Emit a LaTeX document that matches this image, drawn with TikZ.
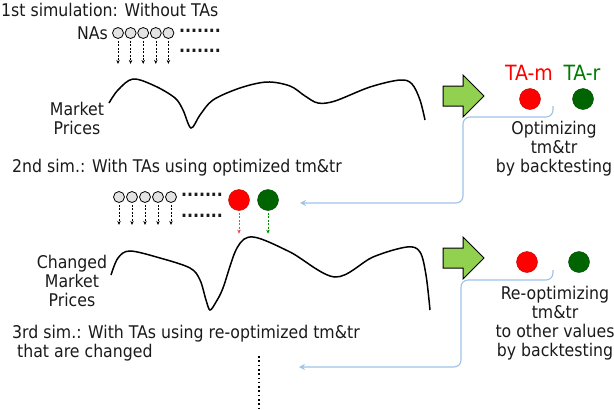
\documentclass[tikz,border=0pt]{standalone}
\usepackage{fontspec}
\setmainfont{DejaVu Sans Condensed}
\usepackage{tikz}
\usetikzlibrary{arrows.meta}
\usetikzlibrary{positioning}
\usepackage{xcolor}
\definecolor{darktext}{HTML}{1A1A1A}
\definecolor{linkblue}{HTML}{9DC3E6}
\definecolor{arrowgreen}{HTML}{92D050}
\definecolor{tagreen}{HTML}{006400}
\definecolor{tmred}{HTML}{FF0000}
\tikzset{
    na/.style={
        draw,
        circle,
        fill=gray!22,
        minimum size=11pt,
        inner sep=0pt,
        line width=0.8pt
    },
    tam/.style={
        draw=red!75!black,
        circle,
        fill=tmred,
        minimum size=21pt,
        inner sep=0pt
    },
    tar/.style={
        draw=tagreen!70!black,
        circle,
        fill=tagreen,
        minimum size=21pt,
        inner sep=0pt
    },
    txt/.style={
        font=\fontsize{17.5}{19}\selectfont,
        text=darktext,
        inner sep=0pt
    },
    talabel/.style={
        font=\fontsize{21}{24}\selectfont,
        inner sep=0pt
    },
    flow/.style={
        draw,
        dash pattern=on 2pt off 1.5pt,
        -{Stealth[length=4pt, width=3.5pt]},
        line width=0.6pt,
        shorten <=2pt
    },
    feedback/.style={
        draw=linkblue,
        line width=1.1pt,
        rounded corners=7pt,
        -{Stealth[length=6pt, width=6pt, open]}
    },
    price/.style={
        line width=1.5pt
    },
    bigarrow/.style={
        draw,
        fill=arrowgreen,
        line width=1pt,
        line join=miter
    }
}

\begin{document}
\begin{tikzpicture}[x=1pt, y=-1pt]
  \useasboundingbox (0,0) rectangle (614,410);

  % 1st simulation
  \node[txt, anchor=west] (sim1) at (1,10) {1st simulation: Without TAs};
  \node[txt, anchor=east] (nas) at (108,33) {NAs};
  \node[na] (n11) at (118,33) {};
  \node[na] (n12) at (130.6,33) {};
  \node[na] (n13) at (143.2,33) {};
  \node[na] (n14) at (155.8,33) {};
  \node[na] (n15) at (168.4,33) {};
  \node[txt] (dots11) at (200,31) {\textbf{.......}};
  \node[txt] (dots12) at (200,51) {\textbf{.......}};
  \coordinate[below=25pt of n11] (e11);
  \coordinate[below=25pt of n12] (e12);
  \coordinate[below=25pt of n13] (e13);
  \coordinate[below=25pt of n14] (e14);
  \coordinate[below=25pt of n15] (e15);
  \draw[flow] (n11) -- (e11);
  \draw[flow] (n12) -- (e12);
  \draw[flow] (n13) -- (e13);
  \draw[flow] (n14) -- (e14);
  \draw[flow] (n15) -- (e15);

  \node[txt, align=center] (mp1) at (77,118) {Market\\Prices};
  \draw[price] plot[smooth, tension=0.55] coordinates {(109,103) (118,90) (133,79) (155,86) (175,98) (183,110) (191,128) (200,115) (213,100) (240,88) (267,82) (290,86) (305,96) (318,103) (335,101) (370,87) (400,80) (412,84) (420,100) (425,120)};

  \draw[bigarrow] (443,86) -- (463,86) -- (463,75) -- (484,96) -- (463,117) -- (463,106) -- (443,106) -- cycle;

  \node[talabel, text=tmred] (tm1) at (529,73) {TA-m};
  \node[talabel, text=tagreen!85!green] (tr1) at (582,73) {TA-r};
  \node[tam] (red1) at (530,99) {};
  \node[tar] (green1) at (583,99) {};
  \node[txt, align=center] (opt1) at (554,149) {Optimizing\\tm\&tr\\by backtesting};

  % 2nd simulation
  \node[txt, anchor=west] (sim2) at (12,168) {2nd sim.: With TAs using optimized tm\&tr};
  \node[na] (n21) at (119,197) {};
  \node[na] (n22) at (132,197) {};
  \node[na] (n23) at (145,197) {};
  \node[na] (n24) at (158,197) {};
  \node[na] (n25) at (171,197) {};
  \node[txt] (dots21) at (202,195) {\textbf{.......}};
  \node[txt] (dots22) at (202,216) {\textbf{.......}};
  \node[tam] (red2) at (239,200) {};
  \node[tar] (green2) at (268,200) {};
  \coordinate[below=22pt of n21] (e21);
  \coordinate[below=22pt of n22] (e22);
  \coordinate[below=22pt of n23] (e23);
  \coordinate[below=22pt of n24] (e24);
  \coordinate[below=22pt of n25] (e25);
  \coordinate[below=23pt of red2] (e26);
  \coordinate[below=23pt of green2] (e27);
  \draw[flow] (n21) -- (e21);
  \draw[flow] (n22) -- (e22);
  \draw[flow] (n23) -- (e23);
  \draw[flow] (n24) -- (e24);
  \draw[flow] (n25) -- (e25);
  \draw[flow, red!75] (red2) -- (e26);
  \draw[flow, green!55!black] (green2) -- (e27);

  % feedback of optimized tm&tr
  \coordinate (s1) at (553,106);
  \coordinate (k1) at (463,117);
  \coordinate (t1) at (300,203);
  \draw[feedback] (s1) |- (k1) |- (t1);

  \node[txt, align=center] (mp2) at (72,281) {Changed\\Market\\Prices};
  \draw[price] plot[smooth, tension=0.55] coordinates {(111,275) (118,258) (130,251) (160,258) (190,268) (200,280) (206,300) (210,310) (216,302) (223,288) (237,248) (253,237) (290,252) (335,277) (373,257) (407,247) (420,252) (426,275) (430,310)};

  \draw[bigarrow] (443,248) -- (463,248) -- (463,237) -- (484,258) -- (463,279) -- (463,268) -- (443,268) -- cycle;

  \node[tam] (red3) at (527,262) {};
  \node[tar] (green3) at (579,262) {};
  \node[txt, align=center] (opt2) at (555,323) {Re-optimizing\\tm\&tr\\to other values\\by backtesting};

  % 3rd simulation
  \node[txt, align=left, anchor=west] (sim3) at (12,343) {3rd sim.: With TAs using re-optimized tm\&tr\\\ that are changed};

  % feedback of re-optimized tm&tr
  \coordinate (s2) at (553,270);
  \coordinate (k2) at (461,280);
  \coordinate (t2) at (299,367);
  \draw[feedback] (s2) |- (k2) |- (t2);

  \coordinate (v1) at (259,356);
  \coordinate (v2) at (259,410);
  \draw[line width=1.6pt, dash pattern=on 1.6pt off 2.7pt] (v1) -- (v2);
\end{tikzpicture}
\end{document}
